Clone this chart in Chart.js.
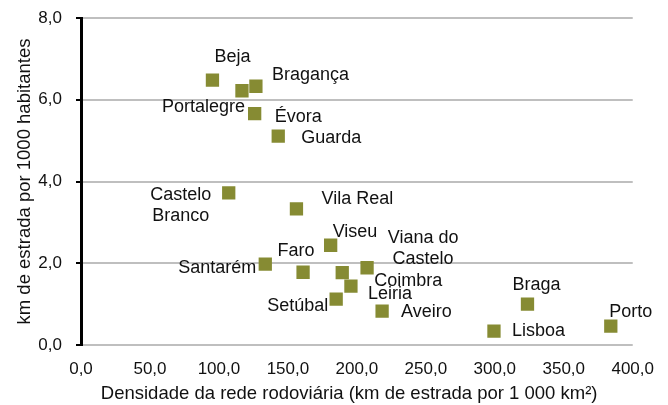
<!DOCTYPE html>
<html>
<head>
<meta charset="utf-8">
<script src="https://cdn.jsdelivr.net/npm/chart.js@4/dist/chart.umd.min.js"></script>
<style>
    html, body { margin: 0; padding: 0; background: #fff; }
    #wrap { width: 668px; height: 405px; }
</style>
</head>
<body>
<div id="wrap"><canvas id="chart" width="668" height="405"></canvas></div>
<script>
// Data
const districts = ['Beja', 'Bragança', 'Portalegre', 'Évora', 'Guarda', 'Castelo\nBranco', 'Vila Real', 'Viseu',
    'Viana do\nCastelo', 'Faro', 'Santarém', 'Coimbra', 'Leiria', 'Setúbal', 'Aveiro', 'Braga', 'Lisboa', 'Porto'];
const roadDensity = [95.3, 126.8, 116.7, 125.9, 143.0, 107.1, 156.2, 181.0,
    207.4, 161.0, 133.6, 189.4, 195.7, 185.0, 218.3, 323.7, 299.4, 384.1];
const kmPerInhabitants = [6.48, 6.33, 6.22, 5.66, 5.11, 3.72, 3.33, 2.44,
    1.89, 1.78, 1.98, 1.77, 1.44, 1.12, 0.83, 1.00, 0.34, 0.46];

// trailing spaces nudge the centred title a bit to the left, like the original
const xTitle = 'Densidade da rede rodoviária (km de estrada por 1 000 km²)\u00a0\u00a0\u00a0';
const yTitle = 'km de estrada por 1000 habitantes';

// Where each name sits relative to its marker: [dx, dy, align]
const labelPlacement = [
    [20, -23, 'center'], [16, -11, 'left'], [3, 16, 'right'], [20, 3, 'left'], [23, 2, 'left'],
    [-48, 2, 'center'], [25, -10, 'left'], [2, -13, 'left'], [56, -30, 'center'], [-7, -21, 'center'],
    [-9, 4, 'right'], [32, 8, 'left'], [17, 8, 'left'], [-8, 7, 'right'], [19, 1, 'left'],
    [9, -19, 'center'], [18, 0, 'left'], [20, -14, 'center']
];

const FONT = 'Liberation Sans, Arial, sans-serif';
const fmt = v => v.toFixed(1).replace('.', ',');

// Draw the district names next to the markers
const pointLabels = {
    id: 'pointLabels',
    afterDatasetsDraw(chart) {
        const ctx = chart.ctx;
        const xs = chart.scales.x;
        const ys = chart.scales.y;
        ctx.save();
        ctx.font = '18px ' + FONT;
        ctx.fillStyle = '#111';
        ctx.textBaseline = 'middle';
        districts.forEach((name, i) => {
            const [dx, dy, align] = labelPlacement[i];
            const px = xs.getPixelForValue(roadDensity[i]);
            const py = ys.getPixelForValue(kmPerInhabitants[i]);
            ctx.textAlign = align;
            name.split('\n').forEach((line, k) => {
                ctx.fillText(line, px + dx, py + dy + k * 21);
            });
        });
        ctx.restore();
    }
};

new Chart(document.getElementById('chart'), {
    type: 'scatter',
    data: {
        datasets: [{
            data: roadDensity.map((x, i) => ({ x: x, y: kmPerInhabitants[i] })),
            backgroundColor: '#868B33',
            borderWidth: 0,
            pointStyle: 'rect',
            pointRadius: 9.4,
            pointHoverRadius: 9.4
        }]
    },
    options: {
        responsive: false,
        animation: false,
        layout: { padding: { top: 18, right: 33, left: 0, bottom: 0 } },
        plugins: {
            legend: { display: false },
            tooltip: { enabled: false }
        },
        scales: {
            x: {
                type: 'linear',
                min: 0,
                max: 400,
                afterFit: s => { s.height = 60; },
                ticks: {
                    stepSize: 50,
                    padding: 14,
                    color: '#111',
                    font: { family: FONT, size: 17 },
                    callback: v => fmt(v)
                },
                grid: { display: false, drawTicks: false },
                border: { display: false },
                title: {
                    display: true,
                    text: xTitle,
                    color: '#111',
                    padding: { top: 0, bottom: 0 },
                    font: { family: FONT, size: 18.5 }
                }
            },
            y: {
                min: 0,
                max: 8,
                afterFit: s => {
                    s.width = 81;
                    // keep the tick padding from pushing the plot down
                    s.paddingTop = 0;
                    s.paddingBottom = 0;
                },
                ticks: {
                    stepSize: 2,
                    padding: 14,
                    color: '#111',
                    font: { family: FONT, size: 17 },
                    callback: v => fmt(v)
                },
                grid: {
                    color: '#BFBFBF',
                    lineWidth: 2,
                    tickColor: '#000',
                    tickLength: 5,
                    tickWidth: 2
                },
                border: { color: '#000', width: 3 },
                title: {
                    display: true,
                    text: yTitle,
                    color: '#111',
                    padding: { top: 14, bottom: 0 },
                    font: { family: FONT, size: 18.5 }
                }
            }
        }
    },
    plugins: [pointLabels]
});
</script>
</body>
</html>
